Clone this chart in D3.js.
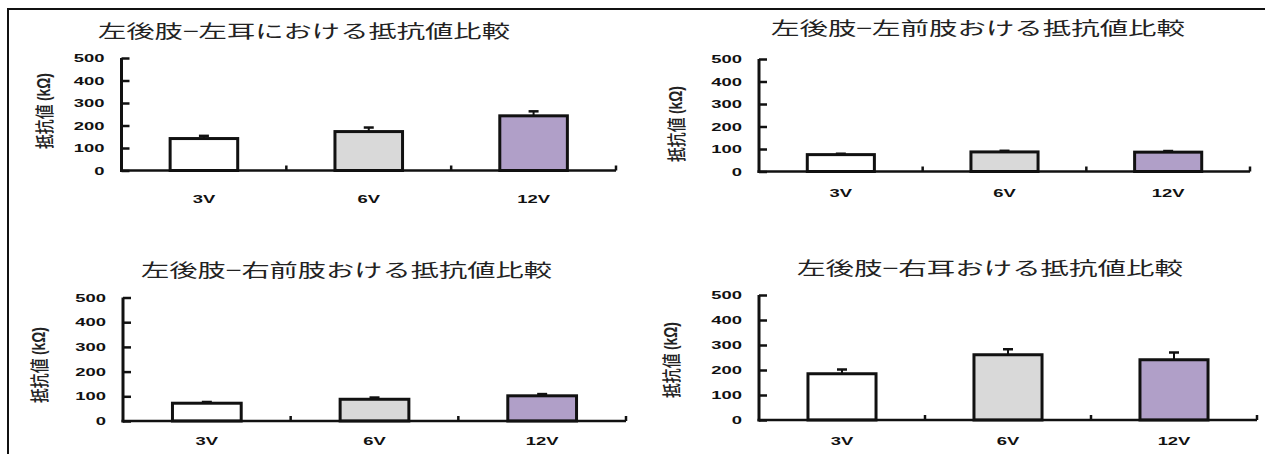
<!DOCTYPE html>
<html>
<head>
<meta charset="utf-8">
<script src="https://cdn.jsdelivr.net/npm/d3@7"></script>
<style>
  html, body { margin: 0; padding: 0; background: #fff; }
  svg { display: block; }
</style>
</head>
<body>
<svg id="chart" width="1265" height="454"></svg>
<script>
// Voltage groups on the x axis
const categories = ["3V", "6V", "12V"];
const yTicks = [0, 100, 200, 300, 400, 500];

// Panel titles
const titles = [
  "左後肢−左耳における抵抗値比較",
  "左後肢−左前肢おける抵抗値比較",
  "左後肢−右前肢おける抵抗値比較",
  "左後肢−右耳おける抵抗値比較"
];

// Mean resistance (kΩ) and upper error per voltage
const meanLeftEar = [142, 173, 243];
const errLeftEar = [12, 18, 20];
const meanLeftFore = [75, 87, 86];
const errLeftFore = [4, 5, 5];
const meanRightFore = [72, 88, 102];
const errRightFore = [5, 7, 7];
const meanRightEar = [185, 261, 241];
const errRightEar = [17, 22, 29];

const barFills = ["#ffffff", "#d9d9d9", "#b09fc8"];

// Panel geometry
const layouts = [
  { x0: 121.5, x1: 616, y0: 170.5, y1: 58, tx: 304, ty: 30, tw: 412, lx: 43.5, ly: 111, xl: 28 },
  { x0: 759, x1: 1250, y0: 171.5, y1: 59, tx: 978, ty: 27, tw: 414, lx: 675, ly: 124, xl: 21 },
  { x0: 123, x1: 626, y0: 421, y1: 297.5, tx: 346.5, ty: 269, tw: 411, lx: 38, ly: 365, xl: 19.5 },
  { x0: 759, x1: 1257, y0: 420, y1: 295, tx: 990, ty: 267, tw: 386, lx: 670, ly: 360, xl: 20.5 }
];

const panels = [
  { title: titles[0], mean: meanLeftEar, err: errLeftEar },
  { title: titles[1], mean: meanLeftFore, err: errLeftFore },
  { title: titles[2], mean: meanRightFore, err: errRightFore },
  { title: titles[3], mean: meanRightEar, err: errRightEar }
];

const svg = d3.select("#chart");
const NUM_FONT = "'Liberation Sans', Arial, sans-serif";
const JP_FONT = "'Noto Sans CJK JP', 'Noto Sans', sans-serif";
const SX = 1.6; // horizontal stretch of the numeric labels

// Outer frame (left and top edges)
svg.append("path")
  .attr("d", "M8,454 L8,9 L1265,9")
  .attr("fill", "none")
  .attr("stroke", "#111")
  .attr("stroke-width", 2);

function stretchedText(g, x, y, str, anchor) {
  return g.append("text")
    .attr("transform", `translate(${x},${y}) scale(${SX},1)`)
    .attr("text-anchor", anchor)
    .attr("dominant-baseline", "central")
    .attr("font-family", NUM_FONT)
    .attr("font-weight", "bold")
    .attr("font-size", 11.5)
    .attr("fill", "#111")
    .text(str);
}

panels.forEach((p, i) => {
  const L = layouts[i];
  const g = svg.append("g");

  const x = d3.scaleBand()
    .domain(categories)
    .range([L.x0, L.x1])
    .paddingInner(0.59)
    .paddingOuter(0.295);
  const y = d3.scaleLinear().domain([0, 500]).range([L.y0, L.y1]);

  const rows = categories.map((c, k) => ({ c, v: p.mean[k], e: p.err[k], fill: barFills[k] }));

  // Title
  g.append("text")
    .attr("x", L.tx - L.tw / 2)
    .attr("y", L.ty)
    .attr("dominant-baseline", "central")
    .attr("font-family", JP_FONT)
    .attr("font-size", 18)
    .attr("fill", "#222")
    .attr("textLength", L.tw)
    .attr("lengthAdjust", "spacingAndGlyphs")
    .text(p.title);

  // Y axis title (glyphs widened across the text direction)
  const yl = g.append("text")
    .attr("transform", `translate(${L.lx},${L.ly}) scale(1.3,1) rotate(-90)`)
    .attr("x", -38)
    .attr("dominant-baseline", "central")
    .attr("font-family", JP_FONT)
    .attr("font-weight", 500)
    .attr("font-size", 15)
    .attr("fill", "#222")
    .attr("textLength", 76)
    .attr("lengthAdjust", "spacingAndGlyphs");
  yl.append("tspan").text("抵抗値 ");
  yl.append("tspan").attr("font-family", NUM_FONT).attr("font-weight", "bold").attr("font-size", 14).text("(kΩ)");

  // Error bars (upper half)
  rows.forEach(r => {
    const cx = x(r.c) + x.bandwidth() / 2;
    g.append("line")
      .attr("x1", cx).attr("x2", cx)
      .attr("y1", y(r.v)).attr("y2", y(r.v + r.e))
      .attr("stroke", "#111").attr("stroke-width", 2);
    g.append("line")
      .attr("x1", cx - 5).attr("x2", cx + 5)
      .attr("y1", y(r.v + r.e)).attr("y2", y(r.v + r.e))
      .attr("stroke", "#111").attr("stroke-width", 2.5);
  });

  // Bars
  g.selectAll("rect.bar").data(rows).join("rect")
    .attr("class", "bar")
    .attr("x", d => x(d.c))
    .attr("y", d => y(d.v))
    .attr("width", x.bandwidth())
    .attr("height", d => y(0) - y(d.v))
    .attr("fill", d => d.fill)
    .attr("stroke", "#111")
    .attr("stroke-width", 3);

  // Y axis with inward ticks
  const yAxis = d3.axisRight(y).tickValues(yTicks).tickSize(8).tickFormat("");
  const ya = g.append("g").attr("transform", `translate(${L.x0},0)`).call(yAxis);
  ya.select(".domain").attr("d", `M0,${y(500)}V${y(0) + 1.5}`).attr("stroke", "#111").attr("stroke-width", 3);
  ya.selectAll(".tick line").attr("stroke", "#111").attr("stroke-width", 2.5);

  yTicks.forEach(t => stretchedText(g, L.x0 - 17, y(t), String(t), "end"));

  // X axis with group dividers
  const step = x.step();
  g.append("line")
    .attr("x1", L.x0 - 1.5).attr("x2", L.x1)
    .attr("y1", y(0)).attr("y2", y(0))
    .attr("stroke", "#111").attr("stroke-width", 2.5);
  categories.forEach(c => {
    const bx = x(c) + x.bandwidth() / 2 + step / 2;
    g.append("line")
      .attr("x1", bx).attr("x2", bx)
      .attr("y1", y(0)).attr("y2", y(0) - 5)
      .attr("stroke", "#111").attr("stroke-width", 2.5);
    stretchedText(g, x(c) + x.bandwidth() / 2, y(0) + L.xl, c, "middle");
  });
});
</script>
</body>
</html>
